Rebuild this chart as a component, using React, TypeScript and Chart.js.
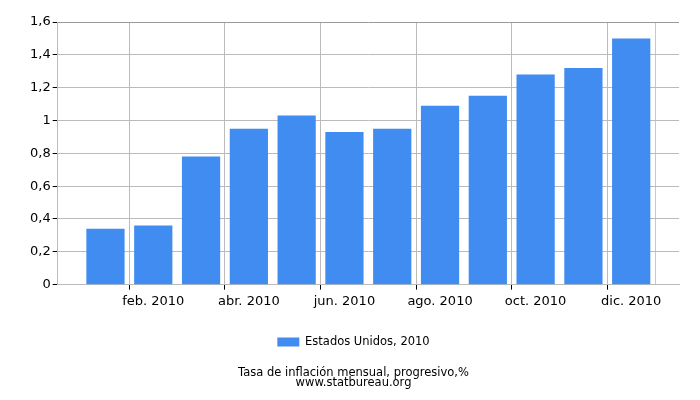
import React, { useEffect, useRef } from "react";
import { Chart, registerables } from "chart.js";

Chart.register(...registerables);

const months = ["ene. 2010", "feb. 2010", "mar. 2010", "abr. 2010", "may. 2010", "jun. 2010", "jul. 2010", "ago. 2010", "sept. 2010", "oct. 2010", "nov. 2010", "dic. 2010"];
const values = [0.34, 0.36, 0.78, 0.95, 1.03, 0.93, 0.95, 1.09, 1.15, 1.28, 1.32, 1.5];
const seriesName = "Estados Unidos, 2010";
const titleLines = ["Tasa de inflación mensual, progresivo,%", "www.statbureau.org"];
const yTicks = { min: 0, max: 1.6, step: 0.2 };

export default function App() {
  const ref = useRef<HTMLCanvasElement>(null);
  useEffect(() => {
    const labels = ["", ...months, ""];
    const data = [null, ...values, null];
    const font = { family: "DejaVu Sans", size: 13 };
    const chart = new Chart(ref.current!, {
      type: "bar",
      data: {
        labels,
        datasets: [
          {
            label: seriesName,
            data,
            backgroundColor: "#418cf0",
            borderWidth: 0,
            barPercentage: 0.8,
            categoryPercentage: 1,
          },
        ],
      },
      options: {
        animation: false,
        responsive: true,
        maintainAspectRatio: false,
        devicePixelRatio: 1,
        layout: { padding: { top: 22, right: 21, left: 28, bottom: 12 } },
        scales: {
          x: {
            type: "category",
            offset: false,
            grid: {
              color: (c: any) => {
                const i = c.index;
                if (i === labels.length - 1) return "#c8c8c8";
                if (i > 0 && i % 2 === 0) return "#bbbbbb";
                return "rgba(0,0,0,0)";
              },
              tickColor: (c: any) => {
                const i = c.index;
                if (i === 0 || (i % 2 === 0 && i < labels.length - 1)) return "#000";
                return "rgba(0,0,0,0)";
              },
              tickLength: 5,
            },
            border: { color: "#bbbbbb" },
            ticks: {
              autoSkip: false,
              maxRotation: 0,
              color: "#000",
              font,
              padding: 4,
              callback: (_v: any, i: number) => (i > 0 && i % 2 === 0 && i < labels.length - 1 ? labels[i] : ""),
            },
          },
          y: {
            min: yTicks.min,
            max: yTicks.max,
            grid: {
              color: (c: any) => (c.tick && Math.abs(c.tick.value - yTicks.max) < 1e-6 ? "#999999" : "#bbbbbb"),
              tickColor: "#000",
              tickLength: 5,
            },
            border: { color: "#bbbbbb" },
            ticks: {
              stepSize: yTicks.step,
              color: "#000",
              font,
              padding: 2,
              callback: (v: any) => String(Number(Number(v).toFixed(1))).replace(".", ","),
            },
          },
        },
        plugins: {
          legend: {
            position: "bottom",
            labels: {
              boxWidth: 22,
              boxHeight: 9,
              color: "#000",
              font: { family: "DejaVu Sans", size: 11.5 },
              padding: 23,
            },
          },
          title: {
            display: true,
            position: "bottom",
            text: titleLines,
            color: "#000",
            font: { family: "DejaVu Sans", size: 11.5, weight: "normal", lineHeight: 0.88 },
            padding: { top: 10, bottom: 0 },
          },
          tooltip: { enabled: false },
        },
      },
    });
    return () => chart.destroy();
  }, []);
  return (
    <div style={{ position: "fixed", left: 0, top: 0, width: 700, height: 400, background: "#fff" }}>
      <canvas ref={ref} />
    </div>
  );
}
